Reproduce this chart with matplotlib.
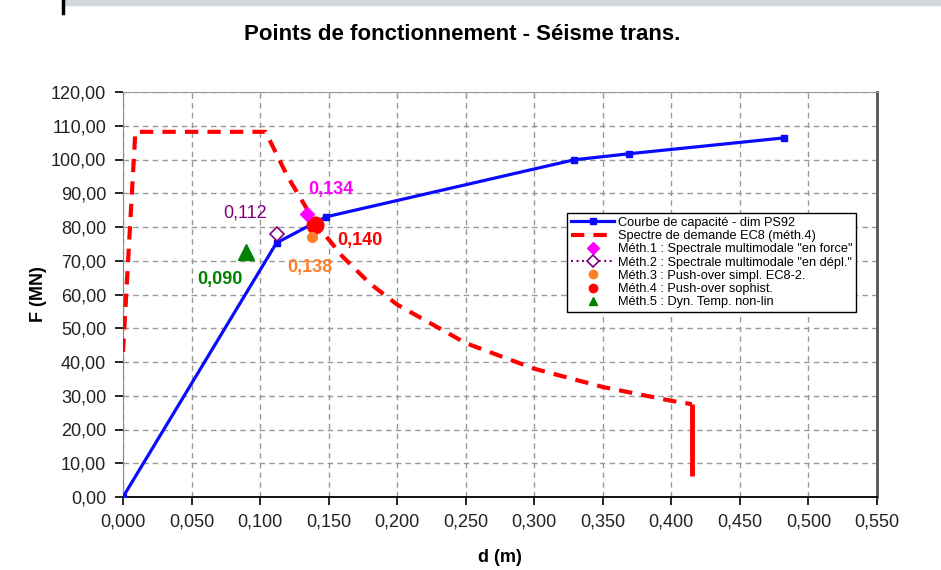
import matplotlib
matplotlib.use('Agg')
import matplotlib.pyplot as plt
from matplotlib.ticker import FuncFormatter, MultipleLocator
from matplotlib.lines import Line2D
from matplotlib.patches import Rectangle

plt.rcParams['font.family'] = ['Liberation Sans', 'DejaVu Sans']

# courbe de capacite (d en m, F en MN)
cap_d = [0.000, 0.112, 0.148, 0.329, 0.369, 0.482]
cap_f = [0.0, 75.3, 83.0, 99.9, 101.7, 106.4]

# spectre de demande EC8
spec_d = [0.000, 0.009, 0.030, 0.060, 0.090, 0.104, 0.120, 0.140, 0.160, 0.180,
          0.200, 0.250, 0.300, 0.350, 0.400, 0.415]
spec_f = [43.0, 108.2, 108.2, 108.2, 108.2, 108.2, 95.0, 81.4, 71.3, 63.3,
          57.0, 45.6, 38.0, 32.6, 28.5, 27.5]
# coupure verticale en fin de spectre
cut_d = [0.415, 0.415]
cut_f = [27.5, 6.2]

# points de fonctionnement
meth_d = [0.134, 0.112, 0.138, 0.140, 0.090]
meth_f = [84.0, 78.0, 77.0, 80.5, 72.5]
meth_lbl = ['0,134', '0,112', '0,138', '0,140', '0,090']
meth_leg = ['Méth.1 : Spectrale multimodale "en force"',
            'Méth.2 : Spectrale multimodale "en dépl."',
            'Méth.3 : Push-over simpl. EC8-2.',
            'Méth.4 : Push-over sophist.',
            'Méth.5 : Dyn. Temp. non-lin']

fig = plt.figure(figsize=(9.41, 5.70), dpi=100)
ax = fig.add_axes([123 / 941, 1 - 497 / 570, 754 / 941, 405 / 570])

# bandeau gris en haut
fig.patches.append(Rectangle((63 / 941, 1 - 5 / 570), 1, 5 / 570, transform=fig.transFigure,
                             color='#d3d6da', zorder=0))
fig.add_artist(Line2D([63 / 941, 63 / 941], [1, 1 - 13 / 570], color='black', lw=2.5))

blue = '#0a0aff'
red = '#ff0000'
ax.plot(cap_d, cap_f, color=blue, lw=2.3, marker='s', ms=4.5, zorder=4,
        label='Courbe de capacité - dim PS92')
ax.plot(spec_d, spec_f, color=red, lw=3, dashes=(3.2, 2.2), zorder=3,
        label='Spectre de demande EC8 (méth.4)')
ax.plot(cut_d, cut_f, color=red, lw=3.5, solid_capstyle='butt', zorder=3)

ax.plot(meth_d[0], meth_f[0], ls='none', marker='D', ms=7, color='#ff00ff', zorder=6,
        label=meth_leg[0])
ax.plot(meth_d[1], meth_f[1], ls=':', lw=1.5, marker='D', ms=7, mfc='white', mec='#800080',
        mew=1.2, color='#800080', zorder=6, label=meth_leg[1])
ax.plot(meth_d[2], meth_f[2], ls='none', marker='o', ms=7, color='#ff7f27', zorder=6,
        label=meth_leg[2])
ax.plot(meth_d[3], meth_f[3], ls='none', marker='o', ms=12, color=red, zorder=5,
        label=meth_leg[3])
ax.plot(meth_d[4], meth_f[4], ls='none', marker='^', ms=11, color='#008000', zorder=6,
        label=meth_leg[4])

# etiquettes des points
ax.text(0.135, 91.0, meth_lbl[0], color='#ff00ff', fontsize=13, fontweight='bold', va='center')
ax.text(0.073, 84.1, meth_lbl[1], color='#800080', fontsize=13, va='center')
ax.text(0.120, 68.1, meth_lbl[2], color='#ff7f27', fontsize=13, fontweight='bold', va='center')
ax.text(0.156, 76.1, meth_lbl[3], color=red, fontsize=13, fontweight='bold', va='center')
ax.text(0.054, 64.3, meth_lbl[4], color='#008000', fontsize=13, fontweight='bold', va='center')

ax.set_xlim(0, 0.55)
ax.set_ylim(0, 120)
ax.xaxis.set_major_locator(MultipleLocator(0.05))
ax.yaxis.set_major_locator(MultipleLocator(10))
ax.xaxis.set_major_formatter(FuncFormatter(lambda v, p: ('%.3f' % v).replace('.', ',')))
ax.yaxis.set_major_formatter(FuncFormatter(lambda v, p: ('%.2f' % v).replace('.', ',')))
ax.tick_params(direction='out', length=6, width=1.2, labelsize=13, labelcolor='#222222', pad=6)
ax.grid(True, color='#999999', ls=(0, (4, 3)), lw=1)
ax.set_axisbelow(True)

ax.spines['left'].set_color('#888888')
ax.spines['top'].set_color('#999999')
ax.spines['right'].set_color('#555555')
ax.spines['right'].set_linewidth(2)
ax.spines['bottom'].set_color('black')
ax.spines['bottom'].set_linewidth(1.3)

ax.set_xlabel('d (m)', fontsize=13, fontweight='bold', labelpad=13)
ax.set_ylabel('F (MN)', fontsize=13, fontweight='bold', labelpad=3)
fig.suptitle('Points de fonctionnement - Séisme trans.', x=(123 + 877) / 2 / 941 - 0.04,
             y=1 - 35 / 570, va='center', fontsize=16, fontweight='bold')

leg = ax.legend(loc='upper left', bbox_to_anchor=((567 - 123) / 754, (497 - 213) / 405),
                fontsize=9.2, handlelength=3.4, labelspacing=0.1, borderpad=0.3,
                handletextpad=0.3, fancybox=False, framealpha=1, edgecolor='black',
                borderaxespad=0)
leg.get_frame().set_linewidth(1)
# marqueurs de legende de taille uniforme
for h in leg.legend_handles[2:]:
    h.set_markersize(6)

fig.savefig('out.png', dpi=100)
